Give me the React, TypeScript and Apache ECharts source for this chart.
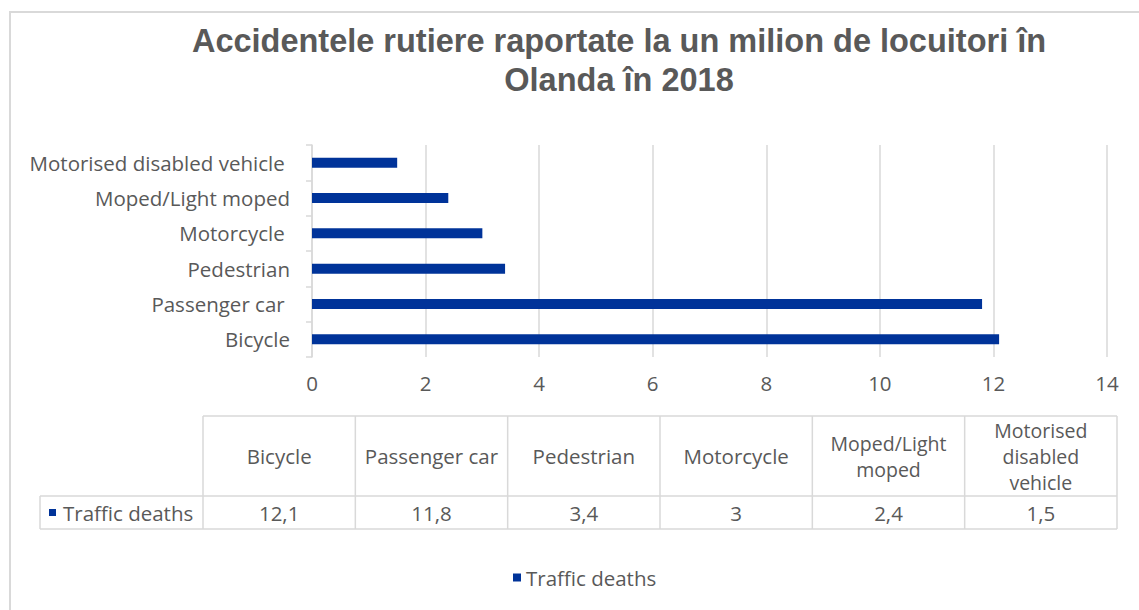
import React, { useEffect, useRef } from "react";
import * as echarts from "echarts";

const titleLines = ["Accidentele rutiere raportate la un milion de locuitori în", "Olanda în 2018"];
const categories = ["Bicycle", "Passenger car ", "Pedestrian", "Motorcycle ", "Moped/Light moped", "Motorised disabled vehicle "];
const values = [12.1, 11.8, 3.4, 3, 2.4, 1.5];
const tableHeaders = ["Bicycle", "Passenger car", "Pedestrian", "Motorcycle", "Moped/Light\nmoped", "Motorised\ndisabled\nvehicle"];
const seriesName = "Traffic deaths";
const xMin = 0;
const xMax = 14;
const xInterval = 2;

const TEXT = "#595959";
const GRIDC = "#d9d9d9";
const BAR = "#003399";
const FONT = "'Open Sans', sans-serif";
const FS = 20.5;

export default function App() {
  const ref = useRef<HTMLDivElement>(null);
  useEffect(() => {
    if (!ref.current) return;
    const chart = echarts.init(ref.current, undefined, { renderer: "svg" });

    // table layout
    const tLeft = 203;
    const tRight = 1117;
    const colW = (tRight - tLeft) / tableHeaders.length;
    const tTop = 416;
    const tMid = 496;
    const tBot = 529;
    const labelLeft = 40;
    const lineStyle = { stroke: GRIDC, lineWidth: 1.5 };
    const graphics: any[] = [];
    graphics.push({
      type: "rect",
      z: -10,
      shape: { x: 10, y: 12, width: 1400, height: 800 },
      style: { fill: "none", stroke: GRIDC, lineWidth: 2 },
    });
    graphics.push({ type: "line", shape: { x1: tLeft, y1: tTop, x2: tRight, y2: tTop }, style: lineStyle });
    graphics.push({ type: "line", shape: { x1: labelLeft, y1: tMid, x2: tRight, y2: tMid }, style: lineStyle });
    graphics.push({ type: "line", shape: { x1: labelLeft, y1: tBot, x2: tRight, y2: tBot }, style: lineStyle });
    graphics.push({ type: "line", shape: { x1: labelLeft, y1: tMid, x2: labelLeft, y2: tBot }, style: lineStyle });
    for (let i = 0; i <= tableHeaders.length; i++) {
      const x = tLeft + i * colW;
      graphics.push({ type: "line", shape: { x1: x, y1: tTop, x2: x, y2: tBot }, style: lineStyle });
    }
    tableHeaders.forEach((h, i) => {
      const cx = tLeft + (i + 0.5) * colW;
      const multi = h.indexOf("\n") >= 0;
      graphics.push({
        type: "text",
        style: {
          text: h,
          x: cx,
          y: (tTop + tMid) / 2,
          align: "center",
          verticalAlign: "middle",
          fontSize: multi ? 19.5 : FS,
          lineHeight: 26,
          fontFamily: FONT,
          fill: TEXT,
        },
      });
      graphics.push({
        type: "text",
        style: {
          text: String(values[i]).replace(".", ","),
          x: cx,
          y: (tMid + tBot) / 2,
          align: "center",
          verticalAlign: "middle",
          fontSize: FS,
          fontFamily: FONT,
          fill: TEXT,
        },
      });
    });
    graphics.push({
      type: "rect",
      shape: { x: 49, y: 509, width: 7, height: 7 },
      style: { fill: BAR },
    });
    graphics.push({
      type: "text",
      style: {
        text: seriesName,
        x: 63,
        y: (tMid + tBot) / 2,
        align: "left",
        verticalAlign: "middle",
        fontSize: FS,
        fontFamily: FONT,
        fill: TEXT,
      },
    });

    chart.setOption({
      animation: false,
      backgroundColor: "#ffffff",
      title: {
        text: titleLines.join("\n"),
        left: 614,
        top: 16,
        textAlign: "center",
        textStyle: {
          fontSize: 32.5,
          fontWeight: "bold",
          fontFamily: "'Liberation Sans', Arial, sans-serif",
          color: TEXT,
          lineHeight: 39,
        },
      },
      legend: {
        left: 508,
        top: 562,
        icon: "rect",
        itemWidth: 8,
        itemHeight: 8,
        textStyle: { fontSize: FS, color: TEXT, fontFamily: FONT },
        data: [seriesName],
      },
      grid: { left: 312, right: 32, top: 145, bottom: 253 },
      xAxis: {
        type: "value",
        min: xMin,
        max: xMax,
        interval: xInterval,
        axisLine: { show: false },
        axisTick: { show: false },
        axisLabel: { fontSize: FS, color: TEXT, fontFamily: FONT, margin: 15 },
        splitLine: { lineStyle: { color: GRIDC, width: 1.5 } },
      },
      yAxis: {
        type: "category",
        data: categories,
        axisLine: { lineStyle: { color: GRIDC, width: 1.5 } },
        axisTick: { show: true, length: 6, lineStyle: { color: GRIDC, width: 1.5 } },
        axisLabel: { fontSize: FS, color: TEXT, fontFamily: FONT, margin: 22 },
      },
      series: [
        {
          name: seriesName,
          type: "bar",
          data: values,
          barWidth: 10,
          itemStyle: { color: BAR },
        },
      ],
      graphic: graphics,
    });
    return () => chart.dispose();
  }, []);
  return <div ref={ref} style={{ position: "absolute", left: 0, top: 0, width: 1139, height: 610 }} />;
}
